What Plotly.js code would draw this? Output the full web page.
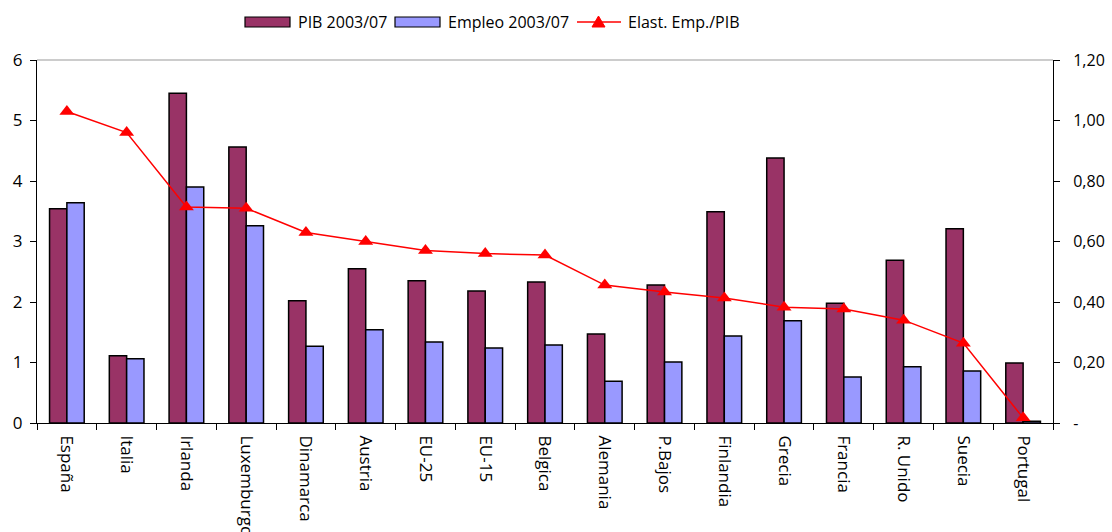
<!DOCTYPE html>
<html>
<head>
<meta charset="utf-8">
<script src="https://cdn.plot.ly/plotly-3.0.1.min.js"></script>
<style>
  html, body { margin: 0; padding: 0; background: #fff; }
  #chart { width: 1112px; height: 532px; }
</style>
</head>
<body>
<div id="chart"></div>
<script>
// ============ DATA ============
const PAISES = ['España', 'Italia', 'Irlanda', 'Luxemburgo', 'Dinamarca', 'Austria', 'EU-25', 'EU-15',
  'Belgica', 'Alemania', 'P.Bajos', 'Finlandia', 'Grecia', 'Francia', 'R. Unido', 'Suecia', 'Portugal'];
const PIB = [3.54, 1.11, 5.45, 4.56, 2.02, 2.55, 2.35, 2.18, 2.33, 1.47, 2.28, 3.49, 4.38, 1.98, 2.69, 3.21, 0.99];
const EMPLEO = [3.64, 1.06, 3.90, 3.26, 1.27, 1.54, 1.34, 1.24, 1.29, 0.69, 1.01, 1.44, 1.69, 0.76, 0.93, 0.86, 0.03];
const ELAST = [1.03, 0.96, 0.714, 0.71, 0.63, 0.60, 0.57, 0.56, 0.555, 0.456, 0.433, 0.413, 0.383, 0.377, 0.34, 0.264, 0.017];
const Y2_TICKS = [0, 0.2, 0.4, 0.6, 0.8, 1.0, 1.2];
const Y2_LABELS = ['-', '0,20', '0,40', '0,60', '0,80', '1,00', '1,20'];

const FONT = 'Open Sans, DejaVu Sans, sans-serif';
const C_PIB = '#993366', C_EMP = '#9999ff', C_EL = '#ff0000';

// ============ TRACES ============
const tracePib = {
  x: PAISES, y: PIB, type: 'bar', name: 'PIB 2003/07',
  marker: { color: C_PIB, line: { color: '#000', width: 1.5 } }
};
const traceEmpleo = {
  x: PAISES, y: EMPLEO, type: 'bar', name: 'Empleo 2003/07',
  marker: { color: C_EMP, line: { color: '#000', width: 1.5 } }
};
const traceElast = {
  x: PAISES, y: ELAST, type: 'scatter', mode: 'lines+markers', name: 'Elast. Emp./PIB',
  yaxis: 'y2', line: { color: C_EL, width: 1.5 },
  marker: { symbol: 'triangle-up', size: 13, color: C_EL }
};

// ============ LEGEND (drawn by hand, Excel style wide swatches) ============
// pixel helpers: plot area is x 37..1053, y 60..423
const px = v => (v - 37) / 1016;
const py = v => (423 - v) / 363;
const LEG_Y = 22;
const shapes = [
  { type: 'line', xref: 'paper', yref: 'paper', x0: 0, x1: 1, y0: 1, y1: 1, line: { color: '#999', width: 1 } },
  { type: 'rect', xref: 'paper', yref: 'paper', x0: px(245), x1: px(290), y0: py(LEG_Y - 5), y1: py(LEG_Y + 5),
    fillcolor: C_PIB, line: { color: '#000', width: 1.2 } },
  { type: 'rect', xref: 'paper', yref: 'paper', x0: px(395), x1: px(440), y0: py(LEG_Y - 5), y1: py(LEG_Y + 5),
    fillcolor: C_EMP, line: { color: '#000', width: 1.2 } },
  { type: 'line', xref: 'paper', yref: 'paper', x0: px(577), x1: px(621), y0: py(LEG_Y), y1: py(LEG_Y),
    line: { color: C_EL, width: 1.5 } },
  { type: 'path', xref: 'paper', yref: 'paper',
    path: 'M ' + px(592) + ' ' + py(LEG_Y + 5) + ' L ' + px(605) + ' ' + py(LEG_Y + 5) + ' L ' + px(598.5) + ' ' + py(LEG_Y - 6) + ' Z',
    fillcolor: C_EL, line: { color: C_EL, width: 1 } }
];
const legendText = [
  { text: 'PIB 2003/07', x: 296 },
  { text: 'Empleo 2003/07', x: 446 },
  { text: 'Elast. Emp./PIB', x: 626 }
];
const annotations = legendText.map(t => ({
  text: t.text, xref: 'paper', yref: 'paper', x: px(t.x), y: py(LEG_Y),
  xanchor: 'left', yanchor: 'middle', showarrow: false,
  font: { family: FONT, size: 16, color: '#000' }
}));

const layout = {
  width: 1112, height: 532,
  margin: { l: 37, r: 59, t: 60, b: 109 },
  paper_bgcolor: '#fff', plot_bgcolor: '#fff',
  font: { family: FONT, size: 15, color: '#000' },
  barmode: 'group', bargap: 0.42, bargroupgap: 0,
  showlegend: false,
  xaxis: {
    type: 'category', range: [-0.5, PAISES.length - 0.5], automargin: false,
    tickangle: 90, tickson: 'boundaries', ticklabelstandoff: 8,
    ticks: 'outside', ticklen: 6, tickcolor: '#000',
    showline: true, linecolor: '#000', linewidth: 1,
    showgrid: false, tickfont: { family: FONT, size: 17 }
  },
  yaxis: {
    range: [0, 6], dtick: 1, ticks: 'outside', ticklen: 6, tickcolor: '#000', automargin: false,
    ticklabelstandoff: 4,
    showline: true, linecolor: '#000', linewidth: 1, showgrid: false, zeroline: false,
    tickfont: { family: FONT, size: 17 }
  },
  yaxis2: {
    range: [0, 1.2], overlaying: 'y', side: 'right', automargin: false,
    tickvals: Y2_TICKS, ticktext: Y2_LABELS, ticklabelstandoff: 10,
    ticks: 'outside', ticklen: 6, tickcolor: '#000',
    showline: true, linecolor: '#000', linewidth: 1, showgrid: false, zeroline: false,
    tickfont: { family: FONT, size: 16 }
  },
  shapes: shapes,
  annotations: annotations
};

Plotly.newPlot('chart', [tracePib, traceEmpleo, traceElast], layout, { displayModeBar: false, staticPlot: true });
</script>
</body>
</html>
